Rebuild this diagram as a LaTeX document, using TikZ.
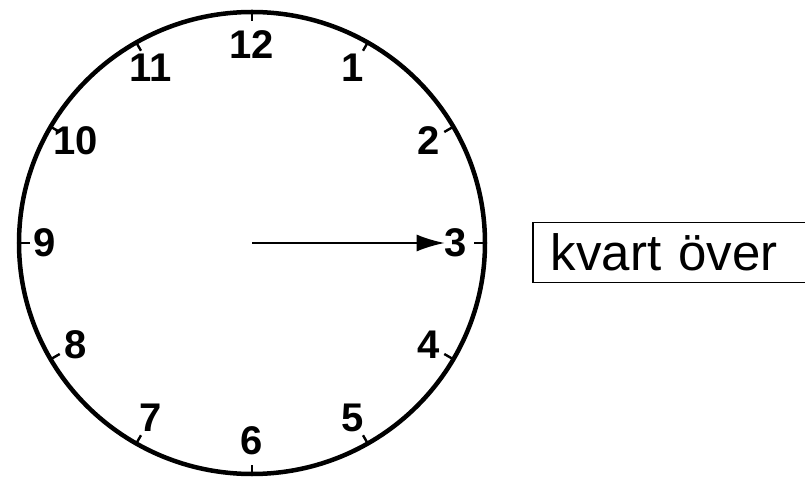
\documentclass[tikz,border=0pt]{standalone}
\usepackage{fontspec}
\setmainfont{Liberation Sans}
\usetikzlibrary{arrows.meta,positioning}

\begin{document}
\begin{tikzpicture}[x=1pt,y=1pt,
    hour/.style={font=\fontsize{40}{40}\selectfont\bfseries, inner sep=0pt},
    hand/.style={line width=2pt,-{Latex[length=28pt,width=17pt]}},
    tick/.style={line width=2.4pt},
    answer/.style={draw, line width=1.5pt, anchor=west, minimum height=60pt,
        minimum width=320pt, text width=290pt, inner xsep=18pt, align=left,
        font=\fontsize{51}{51}\selectfont}
]
\useasboundingbox (-252,-241) rectangle (553,243);
\node (c) at (0,0) {};
\draw[line width=4.5pt] (0,0) ellipse (233 and 231);

% ticks
\foreach \a in {0,30,...,330}
    \draw[tick] (\a:222) -- (\a:233);

\node[hour] (h12) at (90:198)  {12};
\node[hour] (h1)  at (60:202)  {1};
\node[hour] (h2)  at (30:204)  {2};
\node[hour] (h3)  at (0:204)   {3};
\node[hour] (h4)  at (-30:204) {4};
\node[hour] (h5)  at (-60:202) {5};
\node[hour] (h6)  at (-90:198) {6};
\node[hour] (h7)  at (-120:202) {7};
\node[hour] (h8)  at (-150:204) {8};
\node[hour] (h9)  at (180:207) {9};
\node[hour] (h10) at (150:204) {10};
\node[hour] (h11) at (120:202) {11};

\draw[hand] (c.center) -- (h3.west);

\node[answer] (kvart) at (280,-9.5) {kvart över};
\end{tikzpicture}
\end{document}
